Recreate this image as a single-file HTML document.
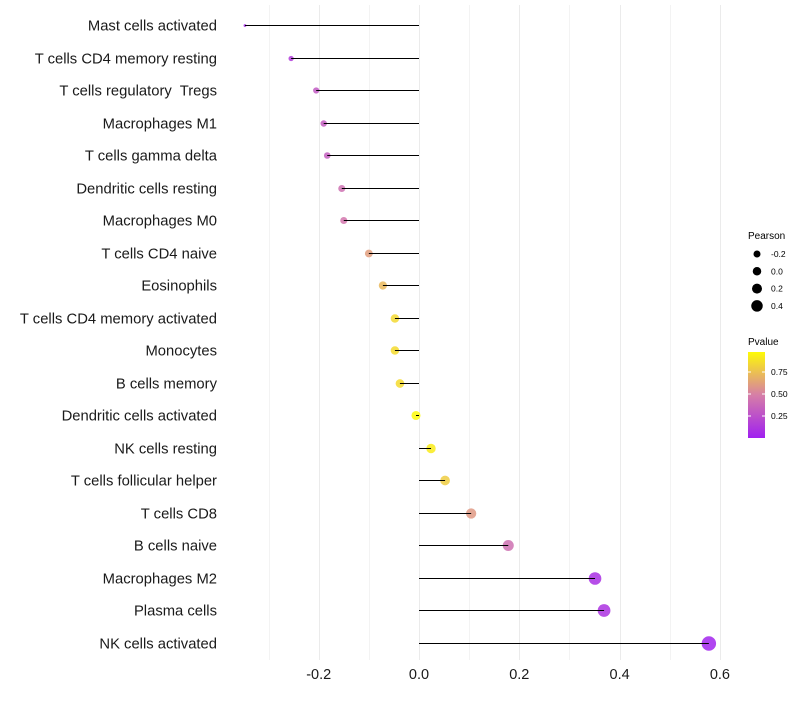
<!DOCTYPE html>
<html><head><meta charset="utf-8"><style>
body{margin:0;background:#fff;font-family:"Liberation Sans",sans-serif}
text{white-space:pre}
</style></head><body>
<svg id="c" width="800" height="700"></svg>
<script>
const categories=["Mast cells activated","T cells CD4 memory resting","T cells regulatory  Tregs","Macrophages M1","T cells gamma delta","Dendritic cells resting","Macrophages M0","T cells CD4 naive","Eosinophils","T cells CD4 memory activated","Monocytes","B cells memory","Dendritic cells activated","NK cells resting","T cells follicular helper","T cells CD8","B cells naive","Macrophages M2","Plasma cells","NK cells activated"];
const pearson=[-0.347,-0.255,-0.205,-0.19,-0.183,-0.154,-0.15,-0.1,-0.072,-0.048,-0.048,-0.038,-0.006,0.024,0.052,0.104,0.178,0.351,0.369,0.578];
const pvalues=[0.05,0.15,0.3,0.32,0.33,0.42,0.45,0.62,0.72,0.85,0.86,0.86,0.98,0.92,0.8,0.6,0.42,0.08,0.1,0.02];
const xTicks=[-0.2,0,0.2,0.4,0.6];
const xTickLabels=["-0.2","0.0","0.2","0.4","0.6"];
const sizeBreaks=[-0.2,0,0.2,0.4];
const pBreaks=[0.25,0.5,0.75];

const svg=document.getElementById('c');const NS="http://www.w3.org/2000/svg";
function mk(t,a,p){const e=document.createElementNS(NS,t);for(const k in a)e.setAttribute(k,a[k]);(p||svg).appendChild(e);return e;}
const x=v=>419+v*501.5;
const y=i=>Math.round(25+i*32.5)+0.5;
const pmin=Math.min(...pearson),pmax=Math.max(...pearson);
const r=v=>Math.sqrt(2+(v-pmin)/(pmax-pmin)*50);
function col(p){const s=[[160,32,240],[215,128,165],[255,255,0]];let t=Math.max(0,Math.min(1,p));const a=t<0.5?s[0]:s[1],b=t<0.5?s[1]:s[2];const u=t<0.5?t*2:(t-0.5)*2;return `rgb(${a.map((c,i)=>Math.round(c+(b[i]-c)*u)).join(',')})`;}
for(let k=-3;k<=6;k++){const v=k/10;const g=mk('line',{x1:Math.round(x(v))+0.5,x2:Math.round(x(v))+0.5,y1:5,y2:660,stroke:k%2===0?'#ebebeb':'#f3f3f3','stroke-width':1});
}
xTicks.forEach((v,i)=>{const t=mk('text',{x:x(v),y:679,'text-anchor':'middle','font-size':14.5,fill:'#1a1a1a'});t.textContent=xTickLabels[i];
});
categories.forEach((c,i)=>{
 const t=mk('text',{x:217,y:y(i)+5,'text-anchor':'end','font-size':14.8,fill:'#1a1a1a'});t.textContent=c;
 
 const d=mk('circle',{cx:x(pearson[i]),cy:y(i),r:r(pearson[i]),fill:col(pvalues[i]),'fill-opacity':0.85});
 
 const l=mk('line',{x1:x(0),x2:x(pearson[i]),y1:y(i),y2:y(i),stroke:'#000','stroke-width':1});
 
});
const lt=mk('text',{x:748,y:239,'font-size':10});lt.textContent='Pearson';

sizeBreaks.forEach((v,i)=>{const cy=254+i*17.3;
 const c=mk('circle',{cx:757,cy:cy,r:3.5+i*0.75,fill:'#000'});
 const t=mk('text',{x:771,y:cy+3,'font-size':8.5});t.textContent=v.toFixed(1);});
const pt=mk('text',{x:748,y:345,'font-size':10});pt.textContent='Pvalue';

const defs=mk('defs',{});const gr=mk('linearGradient',{id:'g',x1:0,y1:1,x2:0,y2:0},defs);
[0,0.25,0.5,0.75,1].forEach(o=>mk('stop',{offset:o,'stop-color':col(o*0.98)},gr));
const cb=mk('rect',{x:748,y:352,width:17,height:86,fill:'url(#g)'});
pBreaks.forEach(p=>{const cy=438-p*88;mk('line',{x1:748,x2:751,y1:cy,y2:cy,stroke:'#fff'});mk('line',{x1:762,x2:765,y1:cy,y2:cy,stroke:'#fff'});
 const t=mk('text',{x:771,y:cy+3,'font-size':8.5});t.textContent=p.toFixed(2);});
</script></body></html>
